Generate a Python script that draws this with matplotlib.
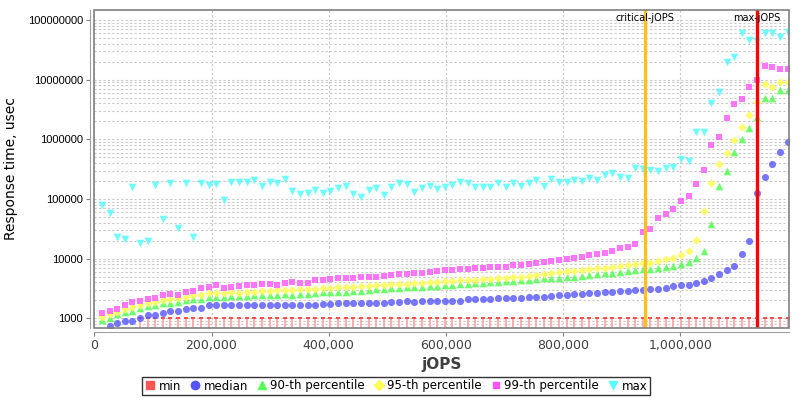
import matplotlib
matplotlib.use("Agg")
import matplotlib.pyplot as plt
from matplotlib.lines import Line2D
from matplotlib.patches import Rectangle
from matplotlib.ticker import FuncFormatter, FixedLocator, LogLocator, NullFormatter

jops = [13000, 26000, 39000, 52000, 65000, 78000, 91000, 104000, 117000, 130000,
        143000, 156000, 169000, 182000, 195000, 208000, 221000, 234000, 247000, 260000,
        273000, 286000, 299000, 312000, 325000, 338000, 351000, 364000, 377000, 390000,
        403000, 416000, 429000, 442000, 455000, 468000, 481000, 494000, 507000, 520000,
        533000, 546000, 559000, 572000, 585000, 598000, 611000, 624000, 637000, 650000,
        663000, 676000, 689000, 702000, 715000, 728000, 741000, 754000, 767000, 780000,
        793000, 806000, 819000, 832000, 845000, 858000, 871000, 884000, 897000, 910000,
        923000, 936000, 949000, 962000, 975000, 988000, 1001000, 1014000, 1027000, 1040000,
        1053000, 1066000, 1079000, 1092000, 1105000, 1118000, 1131000, 1144000, 1157000, 1170000,
        1183000]

min_rt = [500, 500, 500, 500, 500] + [1000] * 86

median = [600, 740, 844, 912, 912, 1023, 1123, 1123, 1227, 1326,
          1326, 1432, 1505, 1505, 1650, 1650, 1650, 1650, 1650, 1650,
          1650, 1700, 1650, 1650, 1700, 1700, 1650, 1700, 1700, 1720,
          1750, 1800, 1780, 1800, 1800, 1820, 1800, 1800, 1850, 1850,
          1950, 1850, 1950, 1950, 1950, 1950, 1950, 1950, 2080, 2080,
          2080, 2080, 2160, 2160, 2160, 2160, 2270, 2270, 2300, 2365,
          2428, 2455, 2523, 2588, 2626, 2685, 2727, 2757, 2839, 2905,
          2950, 3013, 3060, 3131, 3259, 3477, 3570, 3657, 3907, 4218,
          4677, 5524, 6530, 7530, 11970, 20000, 127000, 230700, 385000, 605000,
          891000]

p90 = [930, 1023, 1167, 1290, 1340, 1505, 1607, 1690, 1784, 1826,
       1855, 2027, 2080, 2130, 2300, 2300, 2300, 2390, 2390, 2390,
       2420, 2500, 2450, 2500, 2550, 2500, 2600, 2600, 2700, 2750,
       2750, 2800, 2800, 2900, 2900, 3000, 3050, 3100, 3180, 3200,
       3300, 3350, 3400, 3450, 3500, 3550, 3650, 3700, 3800, 3850,
       3900, 4000, 4050, 4150, 4250, 4350, 4450, 4550, 4650, 4680,
       4750, 4980, 4980, 5100, 5260, 5460, 5680, 5810, 6040, 6200,
       6380, 6630, 6630, 6880, 7330, 7530, 8040, 8690, 10380, 13550,
       37600, 163000, 298000, 619000, 1000000, 1520000, 2400000, 5000000, 5000000, 6600000,
       6600000]

p95 = [1064, 1167, 1290, 1432, 1565, 1670, 1826, 1900, 2027, 2105,
       2160, 2300, 2430, 2490, 2626, 2626, 2685, 2757, 2685, 2757,
       2800, 2850, 2850, 2950, 3000, 2950, 3050, 3100, 3150, 3200,
       3250, 3300, 3300, 3400, 3450, 3500, 3550, 3650, 3700, 3750,
       3800, 3900, 3950, 4000, 4100, 4150, 4250, 4300, 4400, 4450,
       4550, 4600, 4700, 4800, 4900, 5000, 5150, 5300, 5500, 5680,
       5900, 6140, 6140, 6450, 6630, 6880, 7050, 7330, 7530, 7730,
       8040, 8350, 8550, 9120, 9700, 10200, 11500, 13300, 20500, 62800,
       188000, 381000, 600000, 990000, 1630000, 2560000, 4280000, 8450000, 7430000, 9250000,
       9250000]

p99 = [1240, 1340, 1432, 1650, 1855, 1950, 2080, 2210, 2455, 2556,
       2455, 2757, 2905, 3220, 3390, 3570, 3180, 3310, 3440, 3570,
       3600, 3700, 3700, 3650, 3950, 4000, 3850, 3950, 4300, 4400,
       4550, 4650, 4700, 4750, 4850, 4900, 5000, 5150, 5300, 5500,
       5450, 5700, 5850, 6000, 6300, 6400, 6450, 6600, 6800, 7000,
       7100, 7150, 7200, 7350, 7800, 7700, 8100, 8300, 8890, 9250,
       9480, 9860, 10100, 10800, 11500, 12100, 12600, 13280, 15070, 15850,
       17400, 27600, 31400, 47400, 56000, 67900, 92500, 113000, 176000, 306000,
       804000, 1107000, 2250000, 3865000, 4740000, 7620000, 9860000, 17100000, 16100000, 15260000,
       15100000]

max_rt = [79200, 58900, 22800, 21300, 161000, 18500, 20000, 171000, 45600, 183000,
          32200, 183000, 22800, 187000, 171000, 176000, 96000, 195000, 195000, 195000,
          204000, 165000, 195000, 187000, 218000, 138000, 120000, 127000, 141000, 127000,
          138000, 155000, 167000, 120000, 107000, 141000, 151000, 117000, 161000, 187000,
          178000, 132000, 151000, 167000, 145000, 161000, 171000, 195000, 187000, 161000,
          157000, 157000, 183000, 161000, 183000, 165000, 183000, 208000, 167000, 214000,
          195000, 195000, 205000, 200000, 222000, 208000, 252000, 276000, 236000, 227000,
          327000, 314000, 306000, 294000, 327000, 347000, 468000, 433000, 1343000, 1343000,
          4020000, 6290000, 20000000, 24260000, 59800000, 46200000, 44500000, 59800000, 59800000, 52500000,
          62200000]

critical_jops = 940300
max_jops = 1131000

y_bottom = 696
y_top = 1.47e8

fig = plt.figure(figsize=(8, 4), dpi=100)
ax = fig.add_axes([0.1179, 0.1808, 0.868, 0.7942])
ax.set_yscale('log')
ax.set_xlim(0, 1185000)
ax.set_ylim(y_bottom, y_top)

# grid
ax.yaxis.set_major_locator(FixedLocator([1e3, 1e4, 1e5, 1e6, 1e7, 1e8]))
ax.yaxis.set_minor_locator(LogLocator(base=10, subs=range(2, 10)))
ax.yaxis.set_minor_formatter(NullFormatter())
ax.yaxis.set_major_formatter(FuncFormatter(lambda v, p: '%d' % v))
ax.set_xticks([0, 200000, 400000, 600000, 800000, 1000000])
ax.xaxis.set_major_formatter(FuncFormatter(lambda v, p: '{:,}'.format(int(v))))
ax.grid(True, which='both', axis='y', color='#c8c8c8', linestyle=(0, (2, 2)), linewidth=0.8)
ax.grid(True, which='major', axis='x', color='#c8c8c8', linestyle=(0, (2, 2)), linewidth=0.8)
ax.set_axisbelow(True)

for s in ['left', 'bottom']:
    ax.spines[s].set_position(('outward', 3))
    ax.spines[s].set_color('#a0a0a0')
for s in ['top', 'right']:
    ax.spines[s].set_visible(False)
ax.add_patch(Rectangle((0, 0), 1, 1, transform=ax.transAxes, fill=False,
                       edgecolor='#808080', linewidth=1.2, clip_on=False, zorder=5))

ax.tick_params(axis='y', which='major', length=3, width=0.8, color='#808080', labelsize=8, pad=2)
ax.tick_params(axis='y', which='minor', length=0)
for t in ax.get_yticklabels():
    t.set_fontfamily('Liberation Sans')
ax.tick_params(axis='x', which='major', length=3, width=0.8, color='#808080', labelsize=9, pad=2,
               labelcolor='#404040')

# min drawn as stems with a cap
ax.vlines(jops, y_bottom, min_rt, colors='#ffa8a8', linewidth=1.3, zorder=2)
ax.scatter(jops, min_rt, marker='_', s=8, color='#ff4040', linewidths=1.3, zorder=2)

ax.scatter(jops, median, marker='o', s=26, color='#5555ff', alpha=0.8, linewidths=0, zorder=3)
ax.scatter(jops, p90, marker='^', s=30, color='#55ff55', alpha=0.85, linewidths=0, zorder=3)
ax.scatter(jops, p95, marker='D', s=18, color='#ffff55', alpha=0.85, linewidths=0, zorder=3)
ax.scatter(jops, p99, marker='s', s=20, color='#ff55ff', alpha=0.8, linewidths=0, zorder=3)
ax.scatter(jops, max_rt, marker='v', s=30, color='#55ffff', alpha=0.85, linewidths=0, zorder=3)

ax.axvline(critical_jops, color='#ffc020', linewidth=2.4, zorder=4)
ax.axvline(max_jops, color='#ff0000', linewidth=2.4, zorder=4)
ax.text(critical_jops, 0.975, 'critical-jOPS', transform=ax.get_xaxis_transform(),
        ha='center', va='center', fontsize=7, zorder=6)
ax.text(max_jops, 0.975, 'max-jOPS', transform=ax.get_xaxis_transform(),
        ha='center', va='center', fontsize=7, zorder=6)

ax.set_xlabel('jOPS', fontsize=11, fontweight='bold', labelpad=4, color='#404040')
ax.set_ylabel('Response time, usec', fontsize=10)
ax.yaxis.set_label_coords(-0.11, 0.5)

handles = [
    Line2D([], [], linestyle='none', marker='s', markersize=6, color='#ff5555'),
    Line2D([], [], linestyle='none', marker='o', markersize=6, color='#5555ff'),
    Line2D([], [], linestyle='none', marker='^', markersize=6, color='#55ff55'),
    Line2D([], [], linestyle='none', marker='D', markersize=5, color='#ffff55'),
    Line2D([], [], linestyle='none', marker='s', markersize=5, color='#ff55ff'),
    Line2D([], [], linestyle='none', marker='v', markersize=6, color='#55ffff'),
]
labels = ['min', 'median', '90-th percentile', '95-th percentile', '99-th percentile', 'max']
leg = fig.legend(handles, labels, loc='center', bbox_to_anchor=(0.495, 0.035), ncol=6,
                 frameon=True, fancybox=False, edgecolor='black', fontsize=8.5,
                 handletextpad=0.3, columnspacing=0.7, borderpad=0.25, handlelength=0.9,
                 borderaxespad=0)
leg.get_frame().set_linewidth(1)

fig.savefig('out.png', dpi=100)
